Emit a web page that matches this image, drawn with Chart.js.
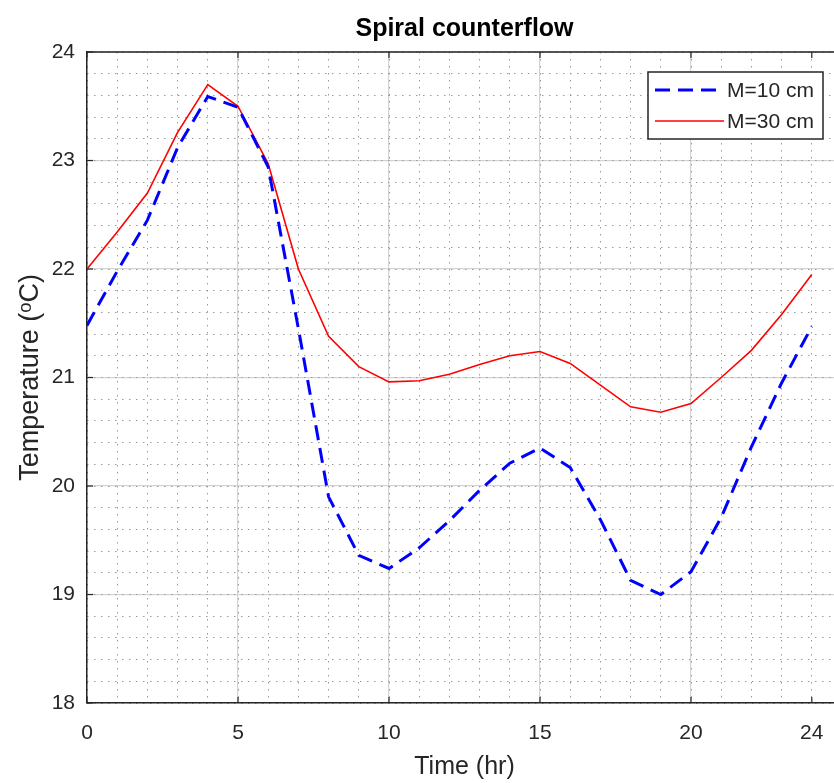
<!DOCTYPE html>
<html>
<head>
<meta charset="utf-8">
<script src="https://cdn.jsdelivr.net/npm/chart.js@4.4.1/dist/chart.umd.min.js"></script>
<style>
  html, body { margin: 0; padding: 0; background: #fff; overflow: hidden; }
  #wrap { width: 834px; height: 783px; overflow: hidden; }
</style>
</head>
<body>
<div id="wrap"><canvas id="spiralChart" width="930" height="783"></canvas></div>
<script>
// time axis (hr) and the two curves
const hours = [0, 1, 2, 3, 4, 5, 6, 7, 8, 9, 10, 11, 12, 13, 14, 15, 16, 17, 18, 19, 20, 21, 22, 23, 24];
const tempM10 = [21.48, 21.98, 22.45, 23.12, 23.59, 23.49, 22.94, 21.45, 19.9, 19.36, 19.24, 19.43, 19.68, 19.96, 20.21, 20.35, 20.17, 19.69, 19.13, 19.0, 19.21, 19.71, 20.36, 20.95, 21.47];
const tempM30 = [22.0, 22.34, 22.7, 23.26, 23.7, 23.5, 22.97, 22.0, 21.38, 21.1, 20.96, 20.97, 21.03, 21.12, 21.2, 21.24, 21.13, 20.93, 20.73, 20.68, 20.76, 21.0, 21.25, 21.58, 21.95];
const seriesLabels = ["M=10 cm", "M=30 cm"];
const xTickValues = [0, 5, 10, 15, 20, 24];
const yTickValues = [18, 19, 20, 21, 22, 23, 24];

const textColor = "#262626";
const majorGrid = "#d4d4d4";
const minorGrid = "#9a9a9a";
const fontFamily = "'Liberation Sans', Arial, sans-serif";

function toPoints(values) {
	return hours.map(function (h, i) {
		return { x: h, y: values[i] };
	});
}

// frame, inward tick marks and the legend box
const matlabFrame = {
	id: "matlabFrame",
	afterDatasetsDraw(chart) {
		const ctx = chart.ctx;
		const area = chart.chartArea;
		const xs = chart.scales.x;
		const ys = chart.scales.y;
		ctx.save();
		ctx.strokeStyle = textColor;
		ctx.lineWidth = 1.5;
		ctx.beginPath();
		ctx.moveTo(area.left, area.top);
		ctx.lineTo(area.right, area.top);
		ctx.stroke();
		ctx.lineWidth = 1.2;
		xTickValues.forEach(function (v) {
			const px = xs.getPixelForValue(v);
			ctx.beginPath();
			ctx.moveTo(px, area.bottom);
			ctx.lineTo(px, area.bottom - 6);
			ctx.moveTo(px, area.top);
			ctx.lineTo(px, area.top + 6);
			ctx.stroke();
		});
		yTickValues.forEach(function (v) {
			const py = ys.getPixelForValue(v);
			ctx.beginPath();
			ctx.moveTo(area.left, py);
			ctx.lineTo(area.left + 6, py);
			ctx.stroke();
		});

		// legend
		const bx = 648, by = area.top + 20, bw = 175, bh = 67;
		ctx.fillStyle = "#fff";
		ctx.fillRect(bx, by, bw, bh);
		ctx.strokeStyle = textColor;
		ctx.lineWidth = 1.5;
		ctx.strokeRect(bx, by, bw, bh);
		ctx.font = "21px " + fontFamily;
		ctx.textBaseline = "middle";
		chart.data.datasets.forEach(function (ds, i) {
			const ly = by + 18 + i * 31;
			ctx.strokeStyle = ds.borderColor;
			ctx.lineWidth = ds.borderWidth;
			ctx.setLineDash(ds.borderDash || []);
			ctx.beginPath();
			ctx.moveTo(bx + 7, ly);
			ctx.lineTo(bx + 76, ly);
			ctx.stroke();
			ctx.setLineDash([]);
			ctx.fillStyle = textColor;
			ctx.fillText(ds.label, bx + 79, ly + 1);
		});
		ctx.restore();
	},
};

const canvaSpiral = document.getElementById("spiralChart").getContext("2d");

const spiralChart = new Chart(canvaSpiral, {
	type: "line",
	data: {
		datasets: [
			{
				label: seriesLabels[0],
				data: toPoints(tempM10),
				borderColor: "rgb(0, 0, 255)",
				borderWidth: 3,
				borderDash: [15, 8],
				pointRadius: 0,
				tension: 0,
			},
			{
				label: seriesLabels[1],
				data: toPoints(tempM30),
				borderColor: "rgb(255, 0, 0)",
				borderWidth: 1.6,
				pointRadius: 0,
				tension: 0,
			},
		],
	},
	options: {
		responsive: false,
		animation: false,
		layout: { padding: { left: 0, top: 0, right: 88, bottom: 0 } },
		plugins: {
			legend: { display: false },
			tooltip: { enabled: false },
			title: {
				display: true,
				fullSize: false,
				text: "Spiral counterflow",
				color: "#000",
				font: { family: fontFamily, size: 25, weight: "bold" },
				padding: { top: 14, bottom: 8 },
			},
		},
		scales: {
			x: {
				type: "linear",
				min: 0,
				max: 25,
				afterBuildTicks: function (scale) {
					scale.ticks = xTickValues.map(function (v) { return { value: v }; });
				},
				afterFit: function (scale) { scale.height = 80; },
				ticks: {
					color: textColor,
					padding: 18,
					maxRotation: 0,
					font: { family: fontFamily, size: 21 },
				},
				grid: {
					drawTicks: false,
					color: function (c) {
						return c.tick && c.tick.value === 24 ? "rgba(0,0,0,0)" : majorGrid;
					},
					lineWidth: 1.2,
				},
				border: { display: true, color: textColor, width: 1.5 },
				title: {
					display: true,
					text: "Time (hr)",
					color: textColor,
					font: { family: fontFamily, size: 25 },
					padding: { top: 0, bottom: 1 },
				},
			},
			xMinor: {
				type: "linear",
				position: "bottom",
				min: 0,
				max: 25,
				ticks: { display: false, stepSize: 1 },
				grid: { drawTicks: false, color: minorGrid, lineWidth: 1 },
				border: { display: false, dash: [1.5, 5.5] },
			},
			y: {
				type: "linear",
				min: 18,
				max: 24,
				afterBuildTicks: function (scale) {
					scale.ticks = yTickValues.map(function (v) { return { value: v }; });
				},
				afterFit: function (scale) { scale.width = 87; },
				ticks: {
					color: textColor,
					padding: 12,
					font: { family: fontFamily, size: 21 },
				},
				grid: { drawTicks: false, color: majorGrid, lineWidth: 1.2 },
				border: { display: true, color: textColor, width: 1.5 },
				title: {
					display: true,
					text: "Temperature (\u1D52C)",
					color: textColor,
					font: { family: fontFamily, size: 27 },
					padding: { top: 14, bottom: 0 },
				},
			},
			yMinor: {
				type: "linear",
				position: "left",
				min: 18,
				max: 24,
				ticks: { display: false, stepSize: 0.2 },
				grid: { drawTicks: false, color: minorGrid, lineWidth: 1 },
				border: { display: false, dash: [1.5, 5.5] },
			},
		},
	},
	plugins: [matlabFrame],
});
</script>
</body>
</html>
